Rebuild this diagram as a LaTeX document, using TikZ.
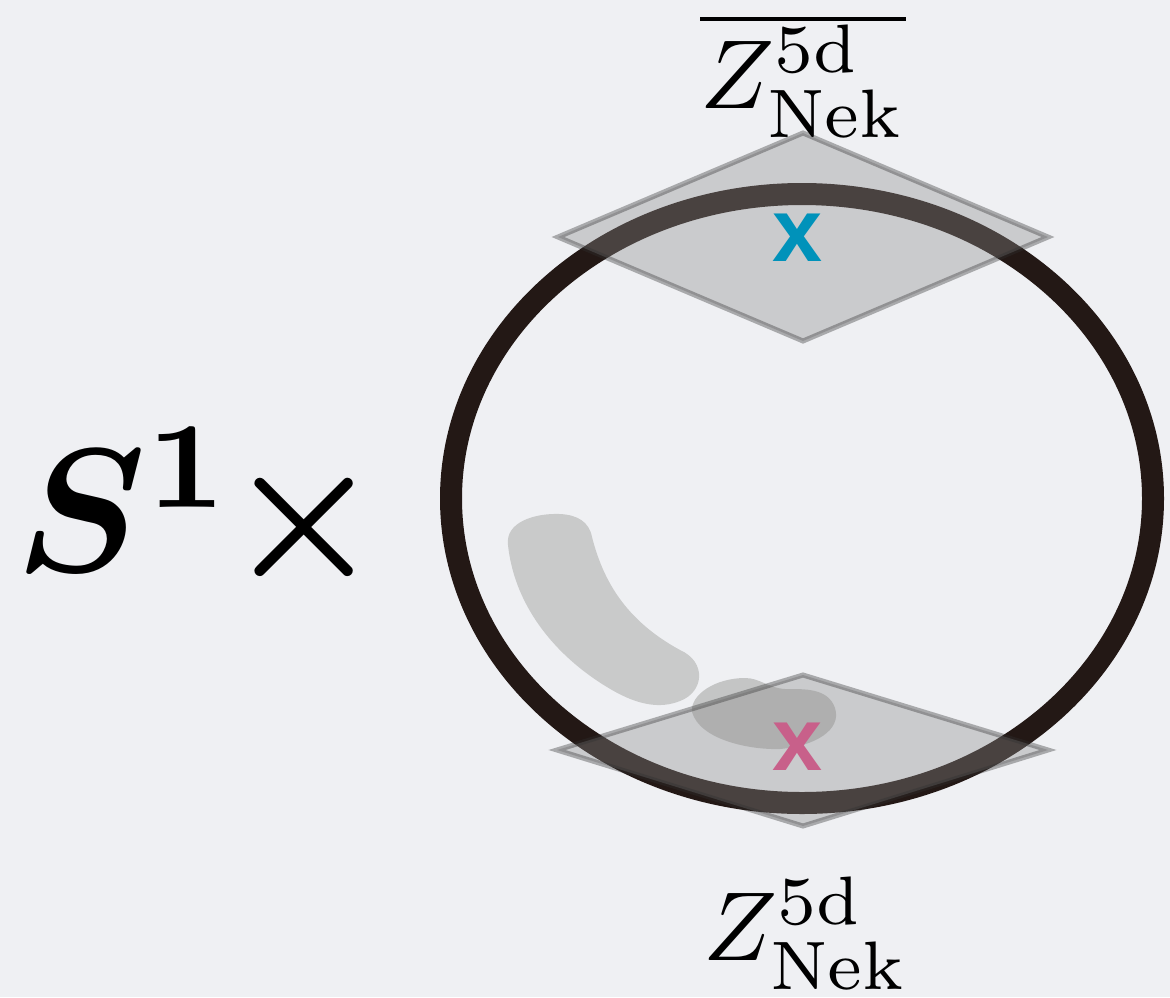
\documentclass[tikz,border=0pt]{standalone}
\usepackage{fontspec}
\usepackage{bm}
\newfontfamily\markfont{Liberation Sans}
\definecolor{bgc}{HTML}{EFF0F3}
\definecolor{ringc}{HTML}{231815}
\definecolor{blobc}{HTML}{C9CACA}
\definecolor{blobd}{HTML}{C4C5C5}
\definecolor{bluex}{HTML}{0092BA}
\definecolor{pinkx}{HTML}{C8608A}
\tikzset{
  diamondpatch/.style={fill=black!45, draw=black!81, line width=5pt, opacity=0.37, line join=miter},
  xmark/.style={inner sep=0pt, font=\markfont\bfseries\fontsize{90}{90}\selectfont},
  biglabel/.style={inner sep=0pt, scale=9.8},
}
\begin{document}
\begin{tikzpicture}[x=1pt,y=-1pt]
\fill[bgc] (0,0) rectangle (1170,997);
\useasboundingbox (0,0) rectangle (1170,997);
% blobs
\fill[blobc] (508,545) .. controls (505,522) and (535,513) .. (560,514)
  .. controls (578,515) and (589,522) .. (592,537)
  .. controls (603,580) and (625,620) .. (680,650)
  .. controls (707,662) and (704,692) .. (680,701)
  .. controls (660,709) and (638,705) .. (612,690)
  .. controls (560,660) and (515,610) .. (508,545) -- cycle;
\fill[blobd] (692,712) .. controls (690,695) and (715,678) .. (745,678)
  .. controls (760,678) and (768,688) .. (785,689)
  .. controls (805,689) and (828,688) .. (835,708)
  .. controls (842,730) and (815,746) .. (780,749)
  .. controls (750,750) and (700,740) .. (692,712) -- cycle;
% ring
\draw[ringc, line width=22pt] (802,498.5) ellipse [x radius=351pt, y radius=304.5pt];
% diamonds
\coordinate (t1) at (803,133); \coordinate (t2) at (1048,237); \coordinate (t3) at (803,341); \coordinate (t4) at (558,237);
\coordinate (b1) at (803,675); \coordinate (b2) at (1048,750); \coordinate (b3) at (803,826); \coordinate (b4) at (557,750);
\path[diamondpatch] (t1) -- (t2) -- (t3) -- (t4) -- cycle;
\path[diamondpatch] (b1) -- (b2) -- (b3) -- (b4) -- cycle;
% x marks
\node[xmark, text=bluex] (xtop) at (798,238) {x};
\node[xmark, text=pinkx] (xbot) at (798,747) {x};
% labels
\node[biglabel, anchor=base] (ztop) at (803,108) {$\overline{\smash{Z^{\mathrm{5d}}_{\mathrm{Nek}}}\rule{0pt}{7.7pt}}$};
\node[biglabel, anchor=base] (zbot) at (806,960) {$Z^{\mathrm{5d}}_{\mathrm{Nek}}$};
\node[inner sep=0pt, scale=17.6, anchor=base west] (s1) at (12,571) {$\bm{S}^{\bm{1}}\mskip-1mu\bm{\times}$};
\end{tikzpicture}
\end{document}
